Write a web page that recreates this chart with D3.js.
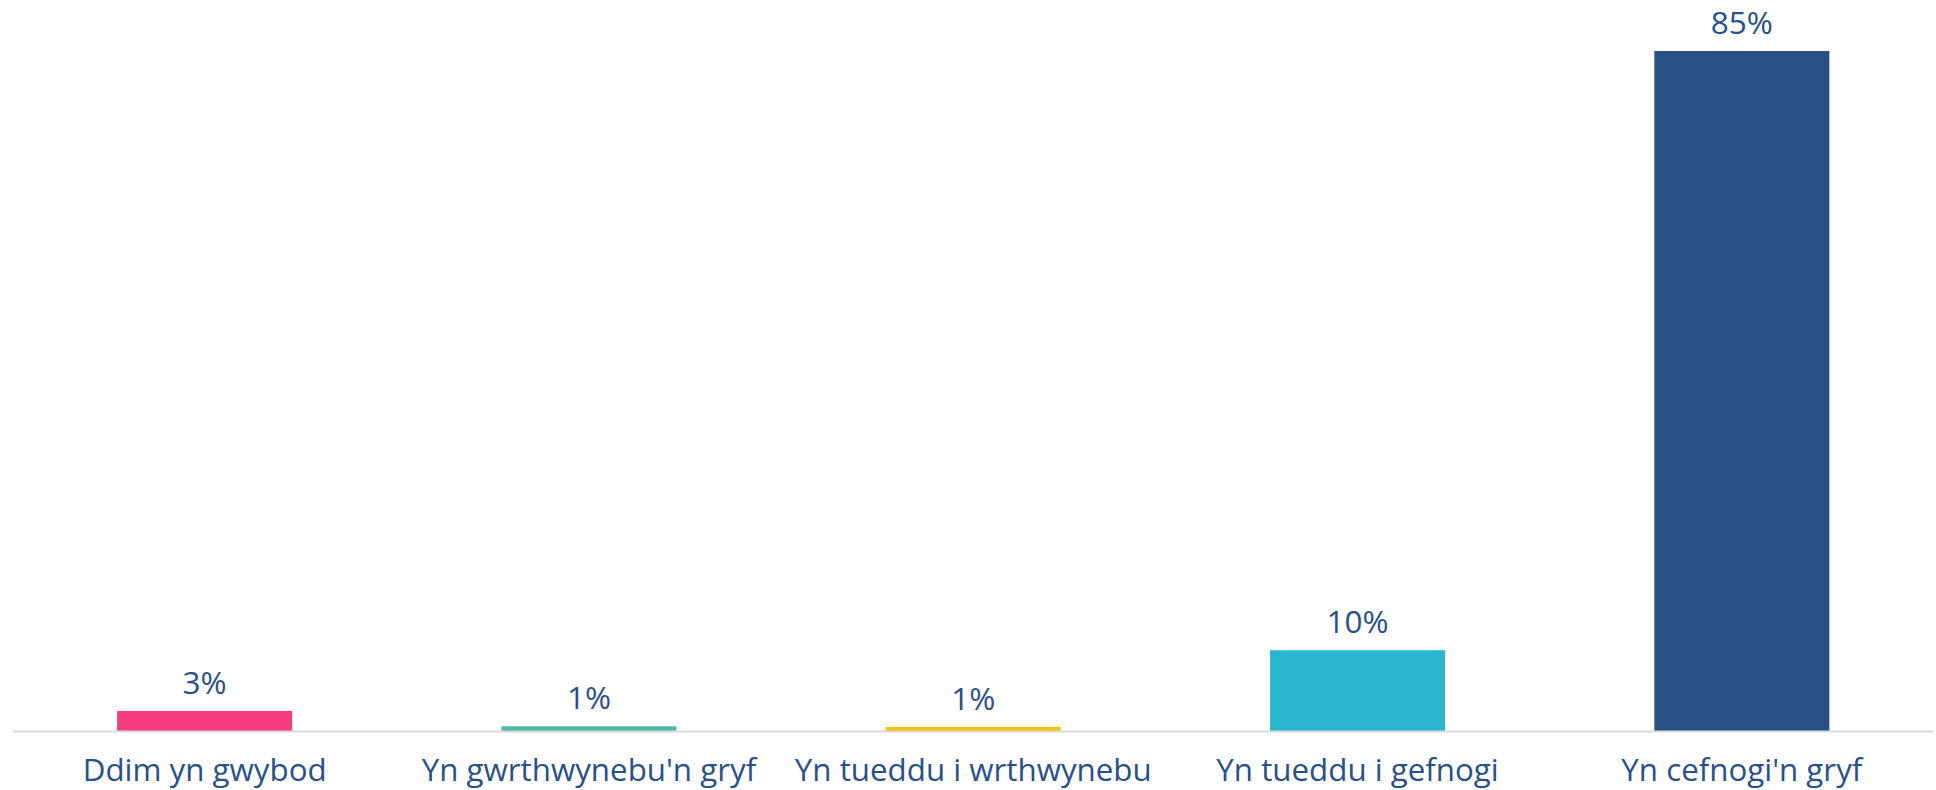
<!DOCTYPE html>
<html>
<head>
<meta charset="utf-8">
<script src="https://cdn.jsdelivr.net/npm/d3@7"></script>
<style>
  html, body { margin: 0; padding: 0; background: #ffffff; }
  svg { display: block; }
  text { font-family: "Open Sans", sans-serif; }
</style>
</head>
<body>
<svg id="chart" width="1936" height="790"></svg>
<script>
const categories = ["Ddim yn gwybod", "Yn gwrthwynebu'n gryf", "Yn tueddu i wrthwynebu", "Yn tueddu i gefnogi", "Yn cefnogi'n gryf"];
const values = [2.5, 0.6, 0.5, 10.1, 85];
const valueLabels = ["3%", "1%", "1%", "10%", "85%"];
const colors = ["#f43b7f", "#4dbaa5", "#f5c200", "#2ab7ce", "#285084"];
const textColor = "#2a5088";

const svg = d3.select("#chart");
const baseY = 731;

const x = d3.scaleBand()
  .domain(categories)
  .range([12.5, 1934])
  .paddingInner(0.5446)
  .paddingOuter(0.2723);

const y = d3.scaleLinear()
  .domain([0, 85])
  .range([baseY, 51]);

const data = categories.map((c, i) => ({ c, v: values[i], label: valueLabels[i], color: colors[i] }));

svg.append("g").selectAll("rect")
  .data(data)
  .join("rect")
  .attr("x", d => x(d.c))
  .attr("width", x.bandwidth())
  .attr("y", d => y(d.v))
  .attr("height", d => y(0) - y(d.v))
  .attr("fill", d => d.color);

// baseline axis
const axis = d3.axisBottom(x).tickSize(0).tickPadding(0);
const gAxis = svg.append("g").attr("transform", `translate(0,${baseY})`).call(axis);
gAxis.select(".domain").attr("d", "M13,0.5H1933").attr("stroke", "#d9d9d9").attr("stroke-width", 2);
gAxis.selectAll(".tick text")
  .attr("y", 0)
  .attr("dy", 50)
  .attr("font-size", 31.3)
  .attr("font-family", "Open Sans, sans-serif")
  .attr("fill", textColor);

// value labels
svg.append("g").selectAll("text")
  .data(data)
  .join("text")
  .attr("x", d => x(d.c) + x.bandwidth() / 2)
  .attr("y", d => y(d.v) - 17)
  .attr("text-anchor", "middle")
  .attr("font-size", 31.5)
  .attr("fill", textColor)
  .text(d => d.label);
</script>
</body>
</html>
